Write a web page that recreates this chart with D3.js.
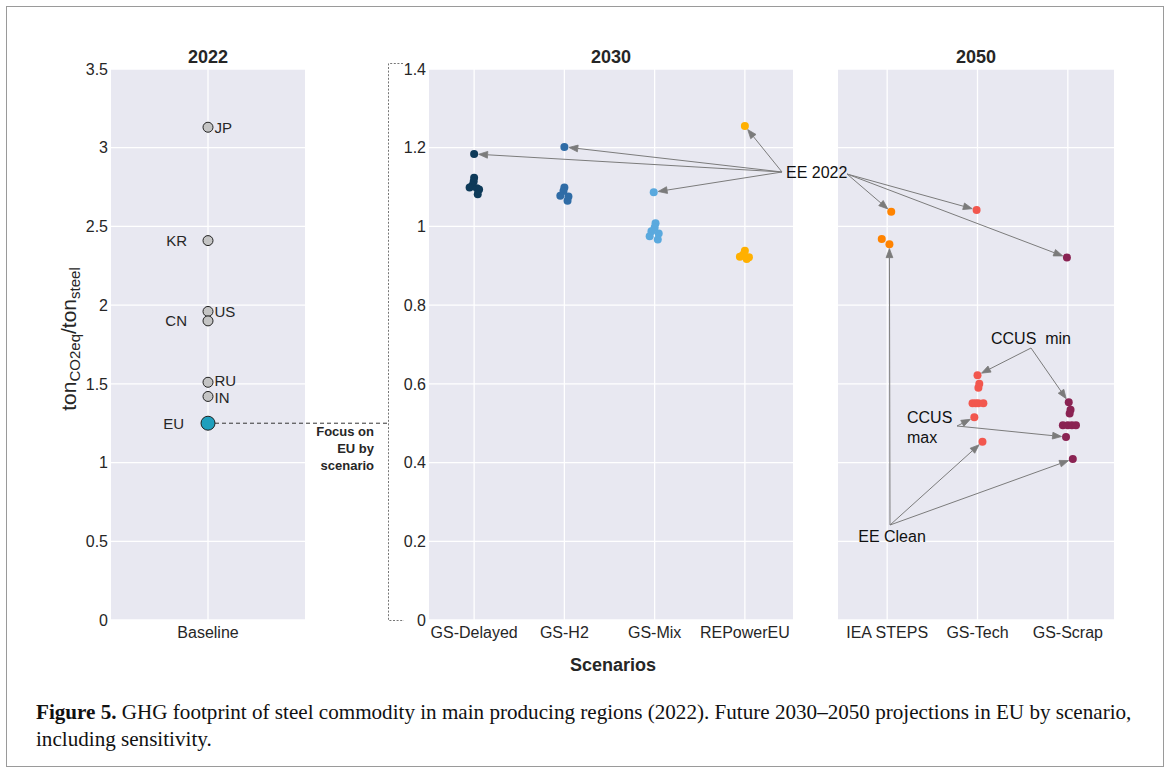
<!DOCTYPE html>
<html>
<head>
<meta charset="utf-8">
<script src="https://cdn.jsdelivr.net/npm/d3@7"></script>
<style>
  html, body { margin: 0; padding: 0; background: #fff; }
  svg { display: block; }
  text { font-family: "Liberation Sans", Arial, sans-serif; }
</style>
</head>
<body>
<svg id="chart" width="1170" height="773"></svg>
<script>
// ---- 2022 baseline by producing region (tCO2eq per t steel) ----
const regions = ["JP", "KR", "US", "CN", "RU", "IN", "EU"];
const footprint2022 = [3.13, 2.41, 1.96, 1.90, 1.51, 1.42, 1.25];
const regionLabelSide = ["right", "left", "right", "left", "right", "right", "left"];
// small vertical nudges (px) so neighbouring labels do not collide
const regionLabelDy = [0, 0, 0, 0, -1.5, 1.5, 0];

// ---- EU scenarios ----
const scenarios2030 = ["GS-Delayed", "GS-H2", "GS-Mix", "REPowerEU"];
const scenarios2050 = ["IEA STEPS", "GS-Tech", "GS-Scrap"];

// sensitivity runs per scenario (first value = EE 2022 case)
const gsDelayed = [1.184, 1.124, 1.114, 1.104, 1.099, 1.097, 1.094, 1.082];
const gsH2      = [1.202, 1.099, 1.090, 1.078, 1.076, 1.065];
const gsMix     = [1.087, 1.008, 0.997, 0.988, 0.982, 0.975, 0.967];
const rePowerEU = [1.255, 0.938, 0.928, 0.923, 0.922, 0.917];
const ieaSteps  = [1.037, 0.968, 0.955];
const gsTech    = [1.042, 0.622, 0.600, 0.590, 0.551, 0.551, 0.551, 0.551, 0.515, 0.453];
const gsScrap   = [0.921, 0.553, 0.534, 0.525, 0.495, 0.495, 0.495, 0.495, 0.465, 0.409];

// strip-plot jitter, as a fraction of the category step
const jitDelayed = [0, 0, -0.005, -0.02, -0.05, 0.03, 0.055, 0.04];
const jitH2      = [0, 0, -0.01, -0.045, 0.045, 0.035];
const jitMix     = [-0.01, 0.01, 0, -0.035, 0.045, -0.055, 0.035];
const jitREP     = [0, 0, -0.02, -0.055, 0.045, 0.02];
const jitIEA     = [0.045, -0.06, 0.025];
const jitTech    = [-0.01, 0, 0.02, 0.01, -0.055, -0.02, 0.01, 0.065, -0.035, 0.055];
const jitScrap   = [-0.01, 0.01, 0.03, 0.02, -0.055, 0, 0.045, 0.09, -0.02, 0.055];

// axis ticks
const ticks2022 = [0, 0.5, 1, 1.5, 2, 2.5, 3, 3.5];
const ticksEU   = [0, 0.2, 0.4, 0.6, 0.8, 1, 1.2, 1.4];

const series = {
  "GS-Delayed": { v: gsDelayed, j: jitDelayed, color: "#0e3a59" },
  "GS-H2":      { v: gsH2,      j: jitH2,      color: "#2f6ca6" },
  "GS-Mix":     { v: gsMix,     j: jitMix,     color: "#5aa9de" },
  "REPowerEU":  { v: rePowerEU, j: jitREP,     color: "#ffb000" },
  "IEA STEPS":  { v: ieaSteps,  j: jitIEA,     color: "#ff8300" },
  "GS-Tech":    { v: gsTech,    j: jitTech,    color: "#f2574e" },
  "GS-Scrap":   { v: gsScrap,   j: jitScrap,   color: "#8a2353" }
};

// annotation groups: arrow origin (px), targets as [scenario, run index]
const annotations = [
  { origin: [782, 172], targets: [["GS-Delayed", 0], ["GS-H2", 0], ["GS-Mix", 0], ["REPowerEU", 0]] },
  { origin: [847, 174], targets: [["IEA STEPS", 0], ["GS-Tech", 0], ["GS-Scrap", 0]] },
  { origin: [890, 525], targets: [["IEA STEPS", 2], ["GS-Tech", 9], ["GS-Scrap", 9]] },
  { origin: [1031, 348], targets: [["GS-Tech", 1], ["GS-Scrap", 1]] },
  { origin: [957, 426], targets: [["GS-Tech", 8], ["GS-Scrap", 8]] }
];

const svg = d3.select("#chart");
const PANEL_BG = "#e8e8f1";
const TXT = "#262626";
const plotTop = 69, plotBottom = 620;

// outer frame
svg.append("rect").attr("x", 6.5).attr("y", 6.5).attr("width", 1157).attr("height", 760)
  .attr("fill", "none").attr("stroke", "#9a9a9a").attr("stroke-width", 1);

// scales
const y1 = d3.scaleLinear().domain([0, 3.5]).range([plotBottom, plotTop]);
const y2 = d3.scaleLinear().domain([0, 1.4]).range([plotBottom, plotTop]);
const x1 = d3.scalePoint().domain(["Baseline"]).range([111, 305]).padding(0.5);
const x2 = d3.scalePoint().domain(scenarios2030).range([429, 790]).padding(0.5);
const x3 = d3.scalePoint().domain(scenarios2050).range([842, 1113]).padding(0.5);

function panel(x0, x1p, y, ticks, xs, showLabels, title) {
  const g = svg.append("g");
  g.append("rect").attr("x", x0).attr("y", plotTop).attr("width", x1p - x0).attr("height", plotBottom - plotTop)
    .attr("fill", PANEL_BG);
  // horizontal grid
  g.selectAll(".hg").data(ticks).join("line")
    .attr("x1", x0).attr("x2", x1p).attr("y1", d => y(d)).attr("y2", d => y(d))
    .attr("stroke", "#fff").attr("stroke-width", 1.3);
  // vertical grid at categories
  g.selectAll(".vg").data(xs.domain()).join("line")
    .attr("x1", d => xs(d)).attr("x2", d => xs(d)).attr("y1", plotTop).attr("y2", plotBottom)
    .attr("stroke", "#fff").attr("stroke-width", 1.3);
  if (showLabels) {
    g.selectAll(".yt").data(ticks).join("text")
      .attr("x", x0 - 3).attr("y", d => y(d)).attr("dy", "0.36em")
      .attr("text-anchor", "end").attr("font-size", 16).attr("fill", TXT)
      .text(d => String(+d.toFixed(1)));
  }
  g.selectAll(".xt").data(xs.domain()).join("text")
    .attr("x", d => xs(d)).attr("y", 638).attr("text-anchor", "middle")
    .attr("font-size", 16).attr("fill", TXT).text(d => d);
  g.append("text").attr("x", (x0 + x1p) / 2).attr("y", 63).attr("text-anchor", "middle")
    .attr("font-size", 18).attr("font-weight", "bold").attr("fill", TXT).text(title);
}

panel(111, 305, y1, ticks2022, x1, true, "2022");
panel(429, 793, y2, ticksEU, x2, true, "2030");
panel(838, 1114, y2, ticksEU, x3, false, "2050");

// ---- 2022 regions ----
const cx1 = x1("Baseline");
const euIdx = regions.indexOf("EU");
const eyEU = y1(footprint2022[euIdx]);

// dashed link from EU to the scenario panels
svg.append("line").attr("x1", cx1 + 7).attr("x2", 388).attr("y1", eyEU).attr("y2", eyEU)
  .attr("stroke", "#333").attr("stroke-width", 1).attr("stroke-dasharray", "4,3");
svg.append("path").attr("d", "M403,63.5 H388.5 V620.5 H404")
  .attr("fill", "none").attr("stroke", "#666").attr("stroke-width", 0.9)
  .attr("stroke-dasharray", "2,1.6");

const fl = svg.append("text").attr("text-anchor", "end").attr("font-size", 13)
  .attr("font-weight", "bold").attr("fill", TXT);
["Focus on", "EU by", "scenario"].forEach((s, i) =>
  fl.append("tspan").attr("x", 374).attr("y", 436 + i * 17).text(s));

regions.forEach((r, i) => {
  const isEU = r === "EU";
  svg.append("circle").attr("cx", cx1).attr("cy", y1(footprint2022[i]))
    .attr("r", isEU ? 7 : 5)
    .attr("fill", isEU ? "#1f9fbd" : "#c4c4c4")
    .attr("stroke", "#222").attr("stroke-width", 1);
  const right = regionLabelSide[i] === "right";
  svg.append("text")
    .attr("x", right ? cx1 + 6.5 : cx1 - (isEU ? 24 : 21))
    .attr("y", y1(footprint2022[i]) + regionLabelDy[i]).attr("dy", "0.36em")
    .attr("text-anchor", right ? "start" : "end")
    .attr("font-size", 15).attr("fill", TXT).text(r);
});

// ---- scenario strips ----
function xOf(name) {
  return scenarios2030.includes(name) ? x2(name) : x3(name);
}
function stepOf(name) {
  return scenarios2030.includes(name) ? x2.step() : x3.step();
}
Object.keys(series).forEach(name => {
  const s = series[name];
  svg.append("g").selectAll("circle").data(s.v).join("circle")
    .attr("cx", (d, i) => xOf(name) + s.j[i] * stepOf(name))
    .attr("cy", d => y2(d)).attr("r", 4).attr("fill", s.color);
});

// ---- annotations ----
const ARROW = "#7b7b7b";
const arrows = svg.append("g");
annotations.forEach(a => {
  const [ox, oy] = a.origin;
  a.targets.forEach(([name, k]) => {
    const s = series[name];
    const px = xOf(name) + s.j[k] * stepOf(name);
    const py = y2(s.v[k]);
    const dx = px - ox, dy = py - oy, L = Math.hypot(dx, dy);
    const ux = dx / L, uy = dy / L;
    const tx = px - ux * 4.5, ty = py - uy * 4.5;       // stop at marker edge
    const hl = 9, hw = 3.4;
    const bx = tx - ux * hl, by = ty - uy * hl;
    arrows.append("line").attr("x1", ox).attr("y1", oy).attr("x2", bx).attr("y2", by)
      .attr("stroke", ARROW).attr("stroke-width", 1);
    arrows.append("path")
      .attr("d", `M${tx},${ty} L${bx - uy * hw},${by + ux * hw} L${bx + uy * hw},${by - ux * hw} Z`)
      .attr("fill", ARROW).attr("stroke", ARROW).attr("stroke-width", 0.8);
  });
});

const ann = svg.append("g").attr("font-size", 16).attr("fill", "#111");
ann.append("text").attr("x", 786).attr("y", 178).text("EE 2022");
ann.append("text").attr("x", 892).attr("y", 542).attr("text-anchor", "middle").text("EE Clean");
ann.append("text").attr("x", 1031).attr("y", 344).attr("text-anchor", "middle")
  .style("white-space", "pre").text("CCUS  min");
const cm = ann.append("text");
cm.append("tspan").attr("x", 907).attr("y", 423).text("CCUS");
cm.append("tspan").attr("x", 907).attr("y", 443).text("max");

// ---- axis titles ----
const yt = svg.append("text").attr("transform", "translate(76,339) rotate(-90)")
  .attr("text-anchor", "middle").attr("font-size", 21).attr("fill", TXT);
yt.append("tspan").text("ton");
yt.append("tspan").attr("font-size", 15).attr("baseline-shift", "-25%").text("CO2eq");
yt.append("tspan").text("/ton");
yt.append("tspan").attr("font-size", 15).attr("baseline-shift", "-25%").text("steel");

svg.append("text").attr("x", 613).attr("y", 671).attr("text-anchor", "middle")
  .attr("font-size", 18).attr("font-weight", "bold").attr("fill", TXT).text("Scenarios");

// ---- caption ----
const cap = svg.append("g").attr("fill", "#111");
const l1 = cap.append("text").attr("x", 36).attr("y", 719)
  .style("font-family", "'Liberation Serif', 'Times New Roman', serif").attr("font-size", 18);
l1.append("tspan").attr("font-weight", "bold").text("Figure 5.");
l1.append("tspan").text(" GHG footprint of steel commodity in main producing regions (2022). Future 2030\u20132050 projections in EU by scenario,");
const l2 = cap.append("text").attr("x", 36).attr("y", 746)
  .style("font-family", "'Liberation Serif', 'Times New Roman', serif").attr("font-size", 18)
  .text("including sensitivity.");
// size caption so the first line spans the figure width
const w1 = l1.node().getComputedTextLength();
const fs = 18 * 1096 / w1;
l1.attr("font-size", fs);
l2.attr("font-size", fs);
</script>
</body>
</html>
